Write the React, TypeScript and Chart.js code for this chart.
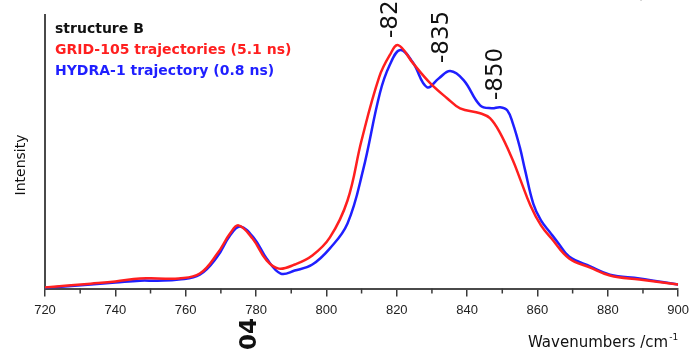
import React, { useEffect, useRef } from 'react';
import { Chart, registerables } from 'chart.js';

Chart.register(...registerables);

// GRID-105 trajectories (5.1 ns) – red
const gridWavenumbers = [720, 733, 740, 747, 752, 758, 764, 769, 772.6, 775, 779, 783, 786.5, 791, 796, 801, 806, 810, 815, 818, 820.4, 824.6, 829.5, 834.3, 838, 843.7, 846.5, 849.4, 853, 855, 858, 861, 864, 869, 875, 880.6, 889, 900];
const gridIntensity = [0.4, 1.8, 2.6, 3.7, 3.7, 3.7, 5.5, 12.8, 20.1, 23.1, 18.3, 10.3, 7.3, 8.8, 12.1, 18.7, 32.2, 54.2, 77.3, 85.3, 89.0, 82.4, 75.1, 69.6, 65.9, 64.1, 62.3, 56.8, 46.9, 40.3, 30.4, 23.1, 18.3, 11.0, 7.7, 4.8, 3.3, 1.5];

// HYDRA-1 trajectory (0.8 ns) – blue
const hydraWavenumbers = [720, 733, 740, 747, 752, 758, 764, 769, 772.6, 775.5, 779.5, 783, 787, 791, 796, 801, 806, 810.4, 815.2, 818, 821, 824.5, 828.6, 832, 835.2, 839, 843.7, 847, 849.4, 851.4, 853, 855, 856.5, 858.8, 861, 863.6, 866, 869, 875, 880.6, 889, 900];
const hydraIntensity = [0.2, 1.5, 2.2, 2.9, 2.9, 3.3, 5.1, 11.7, 19.4, 22.7, 18.3, 11.0, 5.5, 6.6, 8.8, 14.7, 23.8, 43.2, 71.4, 81.7, 87.2, 82.8, 73.6, 76.9, 79.5, 76.2, 67.0, 65.9, 66.3, 65.2, 60.4, 51.6, 43.2, 31.1, 24.9, 20.5, 16.5, 11.7, 8.1, 5.1, 3.7, 1.5];

const xMin = 720;
const xMax = 900;
const majorStep = 20;
const minorTicks = [730, 750, 770, 790, 810, 830, 850, 870, 890];

const legendTitle = 'structure B';
const seriesLabels = ['GRID-105 trajectories (5.1 ns)', 'HYDRA-1 trajectory (0.8 ns)'];
const seriesColors = ['#ff1f1f', '#1f1fff'];

const peakLabels = ['-820', '-835', '-850'];
const peakLabelAt = [818.4, 832.9, 848.2];

const yTitle = 'Intensity';
const xTitle = 'Wavenumbers /cm';
const xTitleSup = '-1';
const strayLabel = '04';

const textPlugin = {
  id: 'textPlugin',
  afterDraw(chart: any) {
    const { ctx, scales, chartArea } = chart;
    const x = scales.x;
    ctx.save();

    // minor ticks
    ctx.strokeStyle = '#3a3a3a';
    ctx.lineWidth = 1.5;
    ctx.beginPath();
    for (const v of minorTicks) {
      const px = x.getPixelForValue(v);
      ctx.moveTo(px, chartArea.bottom);
      ctx.lineTo(px, chartArea.bottom + 5);
    }
    ctx.stroke();

    // legend-like text block
    ctx.textAlign = 'left';
    ctx.textBaseline = 'alphabetic';
    ctx.font = 'bold 14px "DejaVu Sans"';
    ctx.fillStyle = '#111';
    ctx.fillText(legendTitle, 55, 33);
    ctx.fillStyle = seriesColors[0];
    ctx.fillText(seriesLabels[0], 55, 54);
    ctx.fillStyle = seriesColors[1];
    ctx.fillText(seriesLabels[1], 55, 75);

    // peak labels (rotated)
    const bottoms = [38, 63, 100];
    ctx.font = '23px "DejaVu Sans"';
    ctx.fillStyle = '#111';
    peakLabels.forEach((t, i) => {
      const px = x.getPixelForValue(peakLabelAt[i]);
      ctx.save();
      ctx.translate(px, bottoms[i]);
      ctx.rotate(-Math.PI / 2);
      ctx.textAlign = 'left';
      ctx.textBaseline = 'middle';
      ctx.fillText(t, 0, 0);
      ctx.restore();
    });

    // stray "04"
    ctx.save();
    ctx.font = 'bold 23px "DejaVu Sans"';
    ctx.translate(250, 350);
    ctx.rotate(-Math.PI / 2);
    ctx.textAlign = 'left';
    ctx.textBaseline = 'middle';
    ctx.fillText(strayLabel, 0, 0);
    ctx.restore();

    // y title
    ctx.save();
    ctx.font = '14px "DejaVu Sans"';
    ctx.fillStyle = '#111';
    ctx.translate(21, 165);
    ctx.rotate(-Math.PI / 2);
    ctx.textAlign = 'center';
    ctx.textBaseline = 'middle';
    ctx.fillText(yTitle, 0, 0);
    ctx.restore();

    // x title with superscript
    ctx.font = '15px "DejaVu Sans"';
    ctx.fillStyle = '#111';
    ctx.textAlign = 'left';
    ctx.textBaseline = 'alphabetic';
    ctx.fillText(xTitle, 528, 347);
    const w = ctx.measureText(xTitle).width;
    ctx.font = '9px "DejaVu Sans"';
    ctx.fillText(xTitleSup, 528 + w + 1, 340);

    // faint clipped remnant at the top right
    ctx.font = '15px "DejaVu Sans"';
    ctx.fillStyle = '#c4c4c4';
    ctx.fillText(xTitle, 528, 0);

    ctx.restore();
  },
};

export default function App() {
  const ref = useRef<HTMLCanvasElement | null>(null);

  useEffect(() => {
    if (!ref.current) return;
    const chart = new Chart(ref.current, {
      type: 'line',
      data: {
        datasets: [
          {
            label: seriesLabels[0],
            data: gridWavenumbers.map((v, i) => ({ x: v, y: gridIntensity[i] })),
            borderColor: seriesColors[0],
            borderWidth: 2.5,
            pointRadius: 0,
            tension: 0.4,
            fill: false,
          },
          {
            label: seriesLabels[1],
            data: hydraWavenumbers.map((v, i) => ({ x: v, y: hydraIntensity[i] })),
            borderColor: seriesColors[1],
            borderWidth: 2.5,
            pointRadius: 0,
            tension: 0.4,
            fill: false,
          },
        ],
      },
      options: {
        animation: false,
        responsive: false,
        maintainAspectRatio: false,
        layout: { padding: { left: 45, top: 15, right: 12, bottom: 28 } },
        plugins: { legend: { display: false }, tooltip: { enabled: false } },
        scales: {
          x: {
            type: 'linear',
            min: xMin,
            max: xMax,
            ticks: {
              stepSize: majorStep,
              color: '#222',
              font: { family: '"Liberation Sans"', size: 13, lineHeight: 1.8 },
              padding: 2,
              maxRotation: 0,
              autoSkip: false,
            },
            grid: { display: true, drawOnChartArea: false, drawTicks: true, tickLength: 8, color: '#3a3a3a', lineWidth: 1.5 },
            border: { display: true, color: '#4a4a4a', width: 2 },
          },
          y: {
            min: 0,
            max: 100,
            ticks: { display: false },
            grid: { display: false, drawTicks: false },
            border: { display: true, color: '#4a4a4a', width: 2 },
          },
        },
      },
      plugins: [textPlugin],
    } as any);
    return () => chart.destroy();
  }, []);

  return (
    <div style={{ position: 'absolute', left: 0, top: 0, width: 691, height: 352, background: '#fff' }}>
      <canvas ref={ref} width={691} height={352} />
    </div>
  );
}
